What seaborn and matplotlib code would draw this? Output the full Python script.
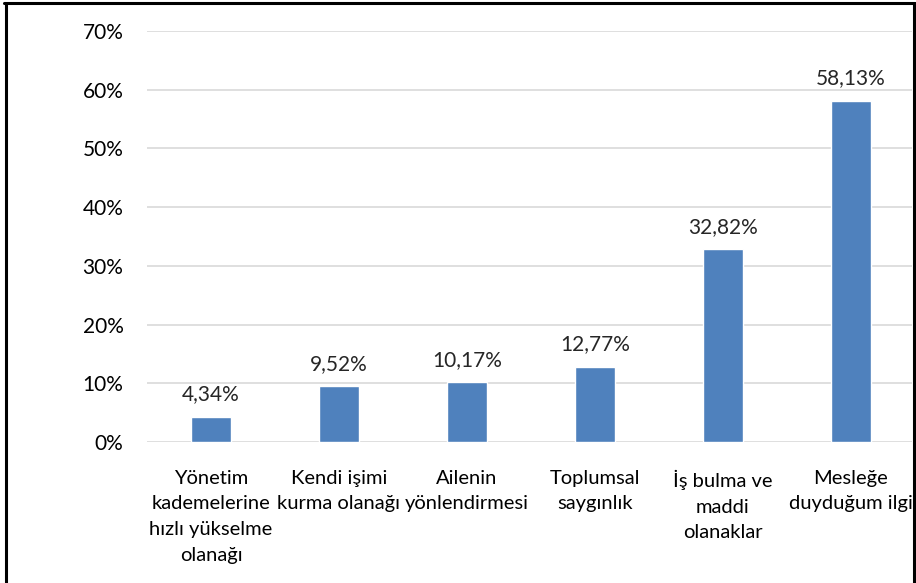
import seaborn as sns
import pandas as pd
import matplotlib.pyplot as plt
from matplotlib.lines import Line2D
from matplotlib.ticker import FuncFormatter

categories = [
    "Yönetim\nkademelerine\nhızlı yükselme\nolanağı",
    "Kendi işimi\nkurma olanağı",
    "Ailenin\nyönlendirmesi",
    "Toplumsal\nsaygınlık",
    "İş bulma ve\nmaddi\nolanaklar",
    "Mesleğe\nduyduğum ilgi",
]
values = [4.34, 9.52, 10.17, 12.77, 32.82, 58.13]
value_labels = ["4,34%", "9,52%", "10,17%", "12,77%", "32,82%", "58,13%"]
y_ticks = [0, 10, 20, 30, 40, 50, 60, 70]

sns.set_style("white")
plt.rcParams["font.family"] = ["Lato", "DejaVu Sans"]

df = pd.DataFrame({"cat": categories, "val": values})

fig = plt.figure(figsize=(9.16, 5.83), dpi=100)
ax = fig.add_axes([147 / 916, 141 / 583, (912 - 147) / 916, (442 - 31) / 583])

sns.barplot(ax=ax, data=df, x="cat", y="val", color="#4F81BD", width=0.31,
            saturation=1, zorder=3)

ax.set_ylim(0, 70)
ax.set_xlim(-0.5, 5.477)
ax.set_yticks(y_ticks)
ax.yaxis.set_major_formatter(FuncFormatter(lambda v, p: f"{v:.0f}%"))
ax.grid(axis="y", color="#D9D9D9", linewidth=1.2, zorder=0)
ax.set_axisbelow(True)
for s in ax.spines.values():
    s.set_visible(False)
ax.set_xlabel("")
ax.set_ylabel("")
ax.tick_params(axis="y", length=0, pad=17, labelsize=15, labelcolor="#000000")
ax.tick_params(axis="x", length=0, pad=20, labelsize=14.5, labelcolor="#000000")
for lbl in ax.get_xticklabels():
    lbl.set_linespacing(1.62)

ax.bar_label(ax.containers[0], labels=value_labels, padding=9, fontsize=15)

# outer frame of the chart (bottom edge is cropped off)
for xs, ys in [([5.5 / 916, 5.5 / 916], [0, 1 - 2.5 / 583]),
               ([4 / 916, 915 / 916], [1 - 2.5 / 583, 1 - 2.5 / 583]),
               ([913.5 / 916, 913.5 / 916], [0, 1 - 2.5 / 583])]:
    fig.add_artist(Line2D(xs, ys, color="black", linewidth=2.2,
                          transform=fig.transFigure))

fig.savefig("out.png", dpi=100)
